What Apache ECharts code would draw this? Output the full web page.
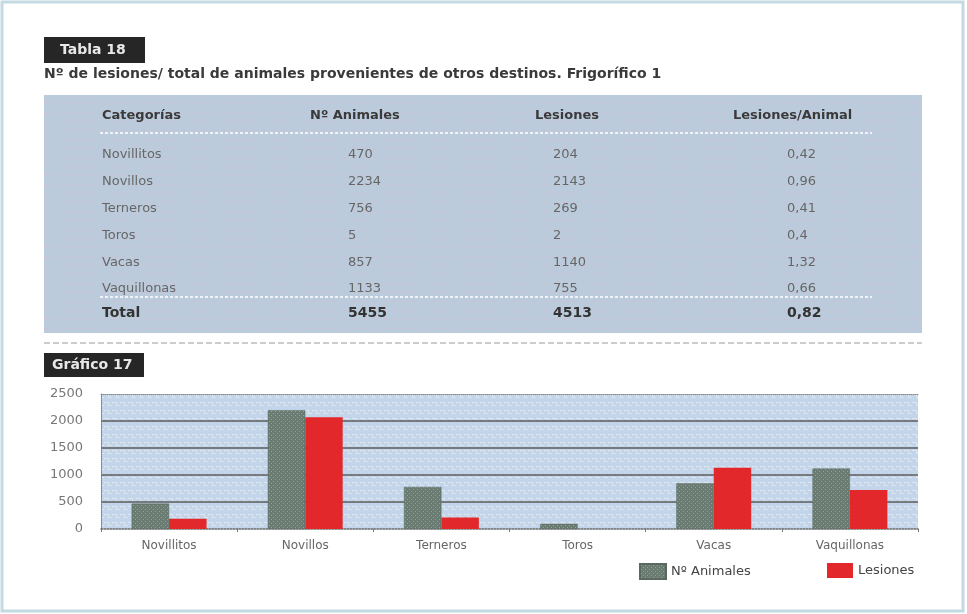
<!DOCTYPE html>
<html><head><meta charset="utf-8">
<script src="https://cdn.jsdelivr.net/npm/echarts@6/dist/echarts.min.js"></script>
<style>html,body{margin:0;padding:0;background:#fff}#c{width:967px;height:614px}</style>
</head><body><div id="c"></div>
<script>
// ---- data ----
const categories = ['Novillitos','Novillos','Terneros','Toros','Vacas','Vaquillonas'];
const animalesChart = [470, 2200, 780, 95, 845, 1120];
const lesionesChart = [190, 2070, 215, 0, 1135, 720];
const seriesNames = ['Nº Animales', 'Lesiones'];
const yTicks = [0, 500, 1000, 1500, 2000, 2500];

const tableHeaders = ['Categorías', 'Nº Animales', 'Lesiones', 'Lesiones/Animal'];
const tableCategories = ['Novillitos','Novillos','Terneros','Toros','Vacas','Vaquillonas'];
const tableAnimales = ['470','2234','756','5','857','1133'];
const tableLesiones = ['204','2143','269','2','1140','755'];
const tableRatio = ['0,42','0,96','0,41','0,4','1,32','0,66'];
const totalRow = ['Total','5455','4513','0,82'];

const tableLabel = 'Tabla 18';
const tableTitle = 'Nº de lesiones/ total de animales provenientes de otros destinos. Frigorífico 1';
const chartLabel = 'Gráfico 17';

// ---- patterns ----
function pat(w, h, bg, draw) {
  const c = document.createElement('canvas'); c.width = w; c.height = h;
  const g = c.getContext('2d'); g.fillStyle = bg; g.fillRect(0, 0, w, h); draw(g);
  return { image: c, repeat: 'repeat' };
}
const tablePat = pat(10, 9, '#bccbdc', g => { g.fillStyle = '#d6b6cc'; g.fillRect(4, 4, 1, 1); });
const plotPat = pat(8, 8, '#c3d5ea', g => {
  g.fillStyle = '#dde6ee'; g.fillRect(0, 2, 5, 1); g.fillRect(4, 2, 1, 4); g.fillRect(4, 5, 4, 1);
});
const grayPat = pat(4, 4, '#6a7b71', g => { g.fillStyle = '#93a594'; g.fillRect(1, 1, 1, 1); g.fillRect(3, 3, 1, 1); });
const redPat = '#e2282a';

const FONT = '"DejaVu Sans","Liberation Sans",sans-serif';

// ---- table graphics ----
const colHeadX = [102, 310, 535, 733];
const colX = [102, 348, 553, 787];
const rowY = [155, 182, 209, 236, 263, 289];
const g = [];
g.push({ type: 'rect', shape: { x: 2, y: 2, width: 961, height: 609 }, style: { fill: 'none', stroke: '#c4dae3', lineWidth: 3 }, silent: true });
g.push({ type: 'rect', shape: { x: 44, y: 37, width: 101, height: 26 }, style: { fill: '#262626' } });
g.push({ type: 'text', x: 60, y: 50, style: { text: tableLabel, fill: '#e8e8e8', font: 'bold 14px ' + FONT, verticalAlign: 'middle' } });
g.push({ type: 'text', x: 44, y: 74, style: { text: tableTitle, fill: '#3a3a3a', font: 'bold 14px ' + FONT, verticalAlign: 'middle' } });
g.push({ type: 'rect', shape: { x: 44, y: 95, width: 878, height: 238 }, style: { fill: tablePat } });
tableHeaders.forEach((t, i) => g.push({ type: 'text', x: colHeadX[i], y: 116, style: { text: t, fill: '#3a3a3a', font: 'bold 13px ' + FONT, verticalAlign: 'middle' } }));
g.push({ type: 'line', shape: { x1: 100, y1: 133, x2: 872, y2: 133 }, style: { stroke: '#ffffff', lineWidth: 1.5, lineDash: [3, 2] } });
tableCategories.forEach((t, r) => {
  [t, tableAnimales[r], tableLesiones[r], tableRatio[r]].forEach((v, i) =>
    g.push({ type: 'text', x: colX[i], y: rowY[r], style: { text: v, fill: '#666', font: '13px ' + FONT, verticalAlign: 'middle' } }));
});
g.push({ type: 'line', shape: { x1: 100, y1: 297, x2: 872, y2: 297 }, style: { stroke: '#ffffff', lineWidth: 1.5, lineDash: [3, 2] } });
totalRow.forEach((v, i) => g.push({ type: 'text', x: colX[i], y: 313, style: { text: v, fill: '#333', font: 'bold 14px ' + FONT, verticalAlign: 'middle' } }));
g.push({ type: 'line', shape: { x1: 44, y1: 343, x2: 922, y2: 343 }, style: { stroke: '#9a9a9a', lineWidth: 1, lineDash: [6, 3] } });
g.push({ type: 'rect', shape: { x: 44, y: 353, width: 100, height: 24 }, style: { fill: '#262626' } });
g.push({ type: 'text', x: 52, y: 365, style: { text: chartLabel, fill: '#e8e8e8', font: 'bold 14px ' + FONT, verticalAlign: 'middle' } });

const chart = echarts.init(document.getElementById('c'), null, { renderer: 'canvas' });
chart.setOption({
  animation: false,
  backgroundColor: '#fff',
  textStyle: { fontFamily: FONT },
  grid: { left: 101, right: 49, top: 394, bottom: 85, show: true, backgroundColor: plotPat, borderWidth: 0 },
  legend: [
    { data: [seriesNames[0]], icon: 'rect', left: 634, top: 558, itemWidth: 26, itemHeight: 15, itemGap: 0,
      textStyle: { color: '#444', fontSize: 13, fontFamily: FONT }, selectedMode: false },
    { data: [seriesNames[1]], icon: 'rect', left: 822, top: 558, itemWidth: 26, itemHeight: 15, itemGap: 0,
      textStyle: { color: '#444', fontSize: 13, fontFamily: FONT }, selectedMode: false }
  ],
  xAxis: [
    { type: 'category', data: categories, position: 'bottom',
      axisLine: { lineStyle: { color: '#6a6a6a', type: 'dotted', width: 1.5 } },
      axisTick: { show: true, length: 3, lineStyle: { color: '#777' } },
      axisLabel: { color: '#666', fontSize: 12, margin: 11, fontFamily: FONT } },
    { type: 'category', data: categories, position: 'top',
      axisLine: { show: true, lineStyle: { color: '#8a8a8a', type: 'dotted', width: 1 } },
      axisTick: { show: false }, axisLabel: { show: false } }
  ],
  yAxis: {
    type: 'value', min: yTicks[0], max: yTicks[yTicks.length - 1], interval: yTicks[1] - yTicks[0],
    axisLine: { show: true, lineStyle: { color: '#7a7a7a', type: 'dotted', width: 1 } },
    axisTick: { show: false },
    axisLabel: { color: '#777', fontSize: 13, margin: 18, fontFamily: FONT, formatter: v => String(v) },
    splitLine: { show: true, lineStyle: { color: ['rgba(0,0,0,0)', '#5a5a5a', '#5a5a5a', '#5a5a5a', '#5a5a5a', 'rgba(0,0,0,0)'], width: 1.5 } }
  },
  series: [
    { name: seriesNames[0], type: 'bar', data: animalesChart, barGap: '0%', barCategoryGap: '45%',
      itemStyle: { color: grayPat, borderColor: '#5a6860', borderWidth: 0.5 } },
    { name: seriesNames[1], type: 'bar', data: lesionesChart,
      itemStyle: { color: redPat } }
  ],
  graphic: g
});
</script>
</body></html>
